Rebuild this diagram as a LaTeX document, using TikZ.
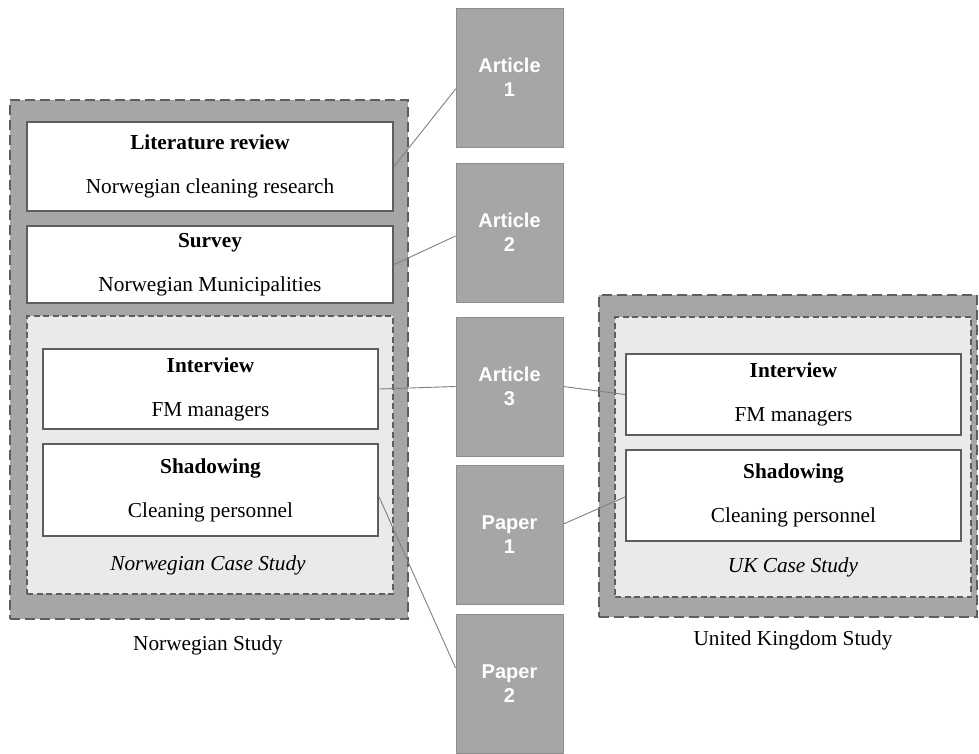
\documentclass[tikz,border=0pt]{standalone}
\usepackage{fontspec}
\setmainfont{Liberation Serif}
\newfontfamily\artfont{Liberation Sans}
\usetikzlibrary{calc}
\definecolor{studyfill}{HTML}{A6A6A6}
\definecolor{casefill}{HTML}{EAEAEA}
\definecolor{borderdark}{HTML}{5E5E5E}
\definecolor{artborder}{HTML}{8C8C8C}
\definecolor{linkgray}{HTML}{808080}
\tikzset{
  studybox/.style={draw=borderdark, fill=studyfill, line width=2.5pt,
    dash pattern=on 10pt off 5pt, minimum width=#1},
  casebox/.style={draw=borderdark, fill=casefill, line width=2pt,
    dash pattern=on 6pt off 3.5pt},
  methodbox/.style={draw=borderdark, fill=white, line width=2.2pt, align=center,
    inner sep=0pt, font=\fontsize{21.3}{44}\selectfont},
  artbox/.style={draw=artborder, fill=studyfill, line width=0.8pt, align=center,
    text=white, minimum width=107pt, minimum height=139pt, inner sep=0pt,
    font=\artfont\bfseries\fontsize{20}{24}\selectfont},
  caption/.style={font=\fontsize{21.3}{25}\selectfont, inner sep=0pt},
  link/.style={draw=linkgray, line width=0.9pt}
}
\begin{document}
\begin{tikzpicture}[x=1pt,y=-1pt]
\useasboundingbox (0,0) rectangle (979,753);

% Norwegian study
\node[studybox=398pt, minimum height=519pt] (nstudy) at (209,359.5) {};
\node[casebox, minimum width=366pt, minimum height=278pt] (ncase) at (210,455) {};
\node[methodbox, minimum width=366pt, minimum height=89pt] (lit) at (210,166.5)
  {\textbf{Literature review}\\Norwegian cleaning research};
\node[methodbox, minimum width=366pt, minimum height=77pt] (survey) at (210,264.5)
  {\textbf{Survey}\\Norwegian Municipalities};
\node[methodbox, minimum width=335pt, minimum height=80pt] (ni) at (210.5,389)
  {\textbf{Interview}\\FM managers};
\node[methodbox, minimum width=335pt, minimum height=92pt] (ns) at (210.5,490)
  {\textbf{Shadowing}\\Cleaning personnel};
\node[caption, font=\itshape\fontsize{21.3}{25}\selectfont] (ncaselabel) at (208,565) {Norwegian Case Study};
\node[caption] (nstudylabel) at (208,645) {Norwegian Study};

% UK study
\node[studybox=378pt, minimum height=322pt] (ukstudy) at (788,456) {};
\node[casebox, minimum width=356pt, minimum height=280pt] (ukcase) at (793,457) {};
\node[methodbox, minimum width=335pt, minimum height=81pt] (ui) at (793.5,394.5)
  {\textbf{Interview}\\FM managers};
\node[methodbox, minimum width=335pt, minimum height=91pt] (us) at (793.5,495.5)
  {\textbf{Shadowing}\\Cleaning personnel};
\node[caption, font=\itshape\fontsize{21.3}{25}\selectfont] (ukcaselabel) at (793,567) {UK Case Study};
\node[caption] (ukstudylabel) at (793,640) {United Kingdom Study};

% Articles and papers
\node[artbox] (a1) at (509.5,77.5) {Article\\1};
\node[artbox] (a2) at (509.5,232.5) {Article\\2};
\node[artbox] (a3) at (509.5,386.5) {Article\\3};
\node[artbox] (p1) at (509.5,535) {Paper\\1};
\node[artbox] (p2) at (509.5,684) {Paper\\2};

% Connectors
\draw[link] (lit.east) -- ([yshift=-11.5pt]a1.west);
\draw[link] (survey.east) -- ([yshift=-3.5pt]a2.west);
\draw[link] (ni.east) -- (a3.west);
\draw[link] (a3.east) -- (ui.west);
\draw[link] ([yshift=11pt]p1.east) -- ([yshift=-1.5pt]us.west);
\draw[link] ([yshift=-7pt]ns.east) -- ([yshift=16pt]p2.west);
\end{tikzpicture}
\end{document}
